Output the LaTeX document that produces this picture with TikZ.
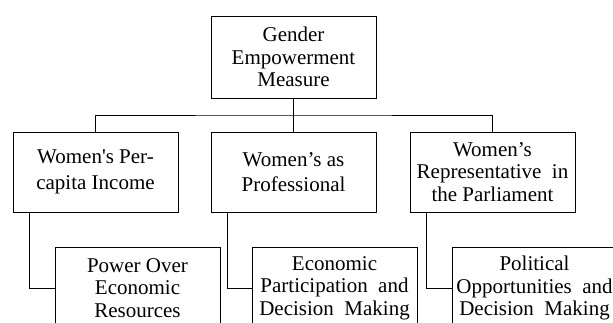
\documentclass[tikz,border=0pt]{standalone}
\usepackage{fontspec}
\setmainfont{Liberation Serif}
\begin{document}
\begin{tikzpicture}[x=1pt,y=-1pt,
  box/.style={draw, line width=0.8pt, minimum width=165pt, minimum height=82pt,
    align=center, inner sep=2pt, font=\fontsize{21}{22.5}\selectfont},
  link/.style={line width=0.8pt}]
\useasboundingbox (0,0) rectangle (613,323);
\clip (0,0) rectangle (613,323);
% top
\node[box] (top) at (293.5,57) {Gender\\Empowerment\\Measure};
% second row
\node[box, minimum height=80pt] (r1) at (95.5,172) {Women\textquotesingle s Per-\\[3pt]capita Income};
\node[box, minimum height=80pt] (r2) at (293.5,172) {Women’s as\\[3pt]Professional};
\node[box, minimum height=80pt] (r3) at (492.5,172) {Women’s\\Representative\ \ in\\the Parliament};
% third row
\node[box] (b1) at (137.5,288) {Power Over\\Economic\\Resources};
\node[box] (b2) at (334.5,288) {Economic\\Participation\ \ and\\Decision\ \ Making};
\node[box] (b3) at (534.5,288) {Political\\Opportunities\ \ and\\Decision\ \ Making};
% bus
\coordinate (bus) at (293.5,115);
\draw[link] (top.south) -- (bus);
\draw[link] (r1.north) |- (bus) -| (r3.north);
\draw[link] (bus) -- (r2.north);
% elbows
\draw[link] ([xshift=17pt]r1.south west) |- (b1.west);
\draw[link] ([xshift=17pt]r2.south west) |- (b2.west);
\draw[link] ([xshift=17pt]r3.south west) |- (b3.west);
\end{tikzpicture}
\end{document}
